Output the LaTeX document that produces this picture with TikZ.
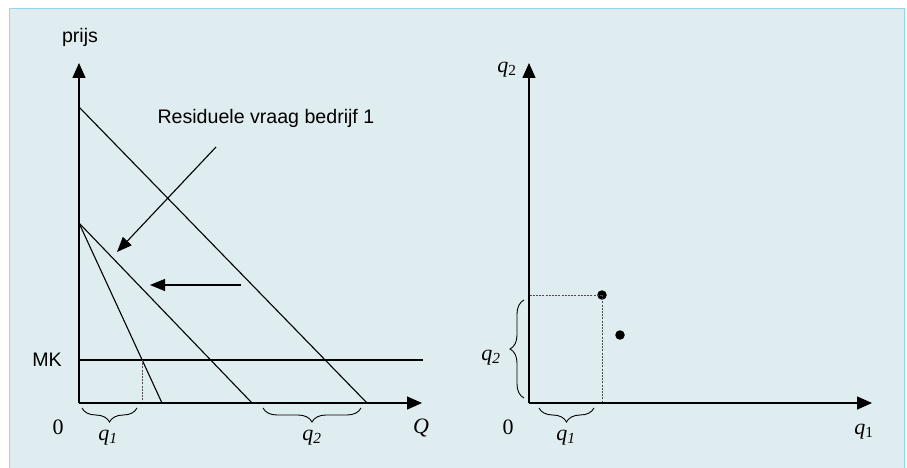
\documentclass[tikz,border=0pt]{standalone}
\usepackage{fontspec}
\setmainfont{Liberation Serif}
\setsansfont{Liberation Sans}
\usetikzlibrary{arrows.meta,decorations.pathreplacing}
\definecolor{panel}{RGB}{223,236,240}
\definecolor{rim}{RGB}{150,214,228}
\tikzset{
  axis/.style={line width=1.4pt,-{Triangle[length=15pt,width=13pt]}},
  curve/.style={line width=1.1pt},
  guide/.style={line width=0.8pt,dash pattern=on 2pt off 1.2pt,black!70},
  pointer/.style={line width=1.1pt,-{Triangle[length=15pt,width=12pt]}},
  qbrace/.style={line width=0.9pt,decorate,decoration={brace,amplitude=14pt}},
  sflab/.style={font=\sffamily\fontsize{19.6}{22}\selectfont},
  qlab/.style={font=\fontsize{22}{24}\selectfont},
  dot/.style={circle,fill,inner sep=0pt,minimum size=9.5pt}
}
\begin{document}
\begin{tikzpicture}[x=1pt,y=-1pt]
  \useasboundingbox (0,0) rectangle (907,468);
  \fill[panel] (9,9) rectangle (904,468);
  \draw[rim,line width=1pt] (9,468) -- (9,9) -- (904,9) -- (904,468);
  % left panel
  \coordinate (O1) at (79,403);
  \coordinate (Ytop1) at (79,63);
  \coordinate (Xend1) at (422,403);
  \coordinate (A) at (79,107);
  \coordinate (B) at (79,223);
  \coordinate (Aend) at (367,403);
  \coordinate (Bend) at (252,403);
  \coordinate (Cend) at (162,403);
  \coordinate (MKend) at (423,360);
  \coordinate (Q1) at (142,360);
  \draw[curve] (A) -- (Aend);
  \draw[curve] (B) -- (Bend);
  \draw[curve] (B) -- (Cend);
  \draw[curve] (O1 |- MKend) -- (MKend);
  \draw[guide] (Q1) -- (Q1 |- O1);
  \draw[axis] (O1) -- (Ytop1);
  \draw[axis] (O1) -- (Xend1);
  \node[sflab] (prijs) at (80,37) {prijs};
  \node[sflab,anchor=west] (resid) at (154,118) {Residuele vraag bedrijf 1};
  \node[sflab] (mk) at (47,360) {MK};
  \node[qlab] (zero1) at (58,427) {0};
  \node[qlab] (qaxis) at (421,428) {\textit{Q}};
  \coordinate (d1) at (216,147);
  \coordinate (d2) at (117,252);
  \draw[pointer] (d1) -- (d2);
  \coordinate (h1) at (241,285);
  \coordinate (h2) at (150,285);
  \draw[pointer] (h1) -- (h2);
  \draw[qbrace] (137,408) -- (82,408);
  \draw[qbrace] (361,408) -- (263,408);
  \node[qlab] (lq1) at (108,438) {\textit{q}\textsubscript{\textit{1}}};
  \node[qlab] (lq2) at (312,438) {\textit{q}\textsubscript{\textit{2}}};
  % right panel
  \coordinate (O2) at (529,403);
  \coordinate (Ytop2) at (529,63);
  \coordinate (Xend2) at (872,403);
  \node[dot] (P1) at (602,295) {};
  \node[dot] (P2) at (620,335) {};
  \draw[guide] (P1.center) -- (P1 -| O2);
  \draw[guide] (P1.center) -- (P1 |- O2);
  \draw[axis] (O2) -- (Ytop2);
  \draw[axis] (O2) -- (Xend2);
  \node[qlab] (rq2top) at (507,70) {\textit{q}\textsubscript{2}};
  \node[qlab] (zero2) at (508,427) {0};
  \node[qlab] (rq1end) at (864,432) {\textit{q}\textsubscript{1}};
  \draw[qbrace] (524,398) -- (524,300);
  \draw[qbrace] (594,408) -- (539,408);
  \node[qlab] (rq2) at (491,358) {\textit{q}\textsubscript{\textit{2}}};
  \node[qlab] (rq1) at (566,438) {\textit{q}\textsubscript{\textit{1}}};
\end{tikzpicture}
\end{document}
